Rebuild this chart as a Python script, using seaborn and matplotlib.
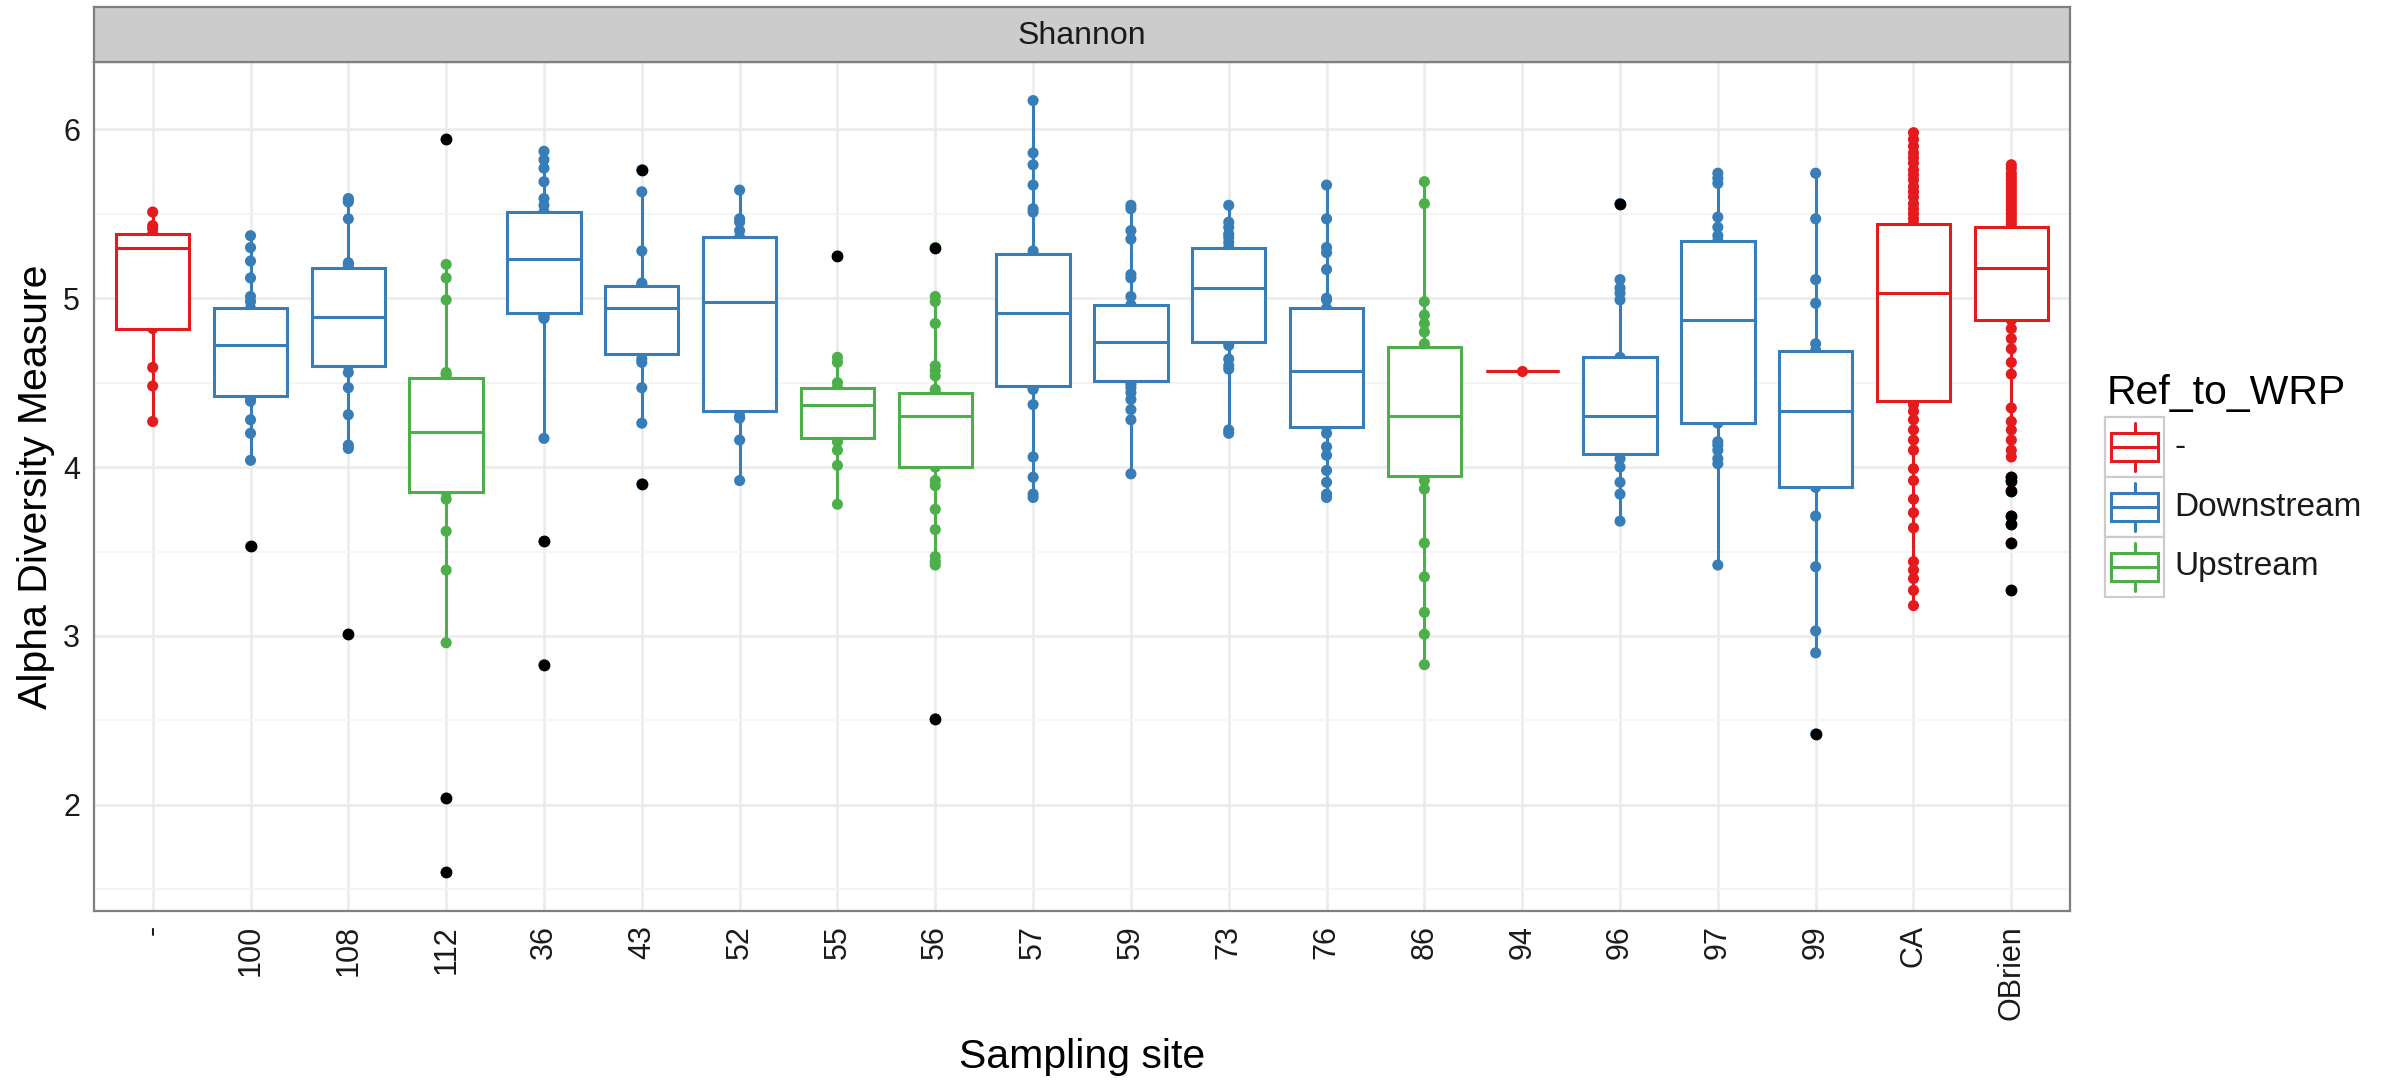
import numpy as np
import pandas as pd
import matplotlib
matplotlib.use('Agg')
import matplotlib.pyplot as plt
import seaborn as sns
from matplotlib.patches import Rectangle
from matplotlib.ticker import MultipleLocator

sns.set_theme(style='white')
plt.rcParams['font.family'] = ['Liberation Sans', 'DejaVu Sans']

# Sampling sites (x axis) and their Ref_to_WRP group
sites = ['-', '100', '108', '112', '36', '43', '52', '55', '56', '57',
         '59', '73', '76', '86', '94', '96', '97', '99', 'CA', 'OBrien']
groups = ['-', 'Downstream', 'Downstream', 'Upstream', 'Downstream', 'Downstream',
          'Downstream', 'Upstream', 'Upstream', 'Downstream', 'Downstream',
          'Downstream', 'Downstream', 'Upstream', '-', 'Downstream', 'Downstream',
          'Downstream', '-', '-']

# Shannon values per site
v_dash = [4.27, 4.48, 4.59, 4.82, 4.95, 5.15, 5.30, 5.33, 5.36, 5.38, 5.41, 5.43, 5.51]
v_100 = [3.53, 4.04, 4.20, 4.28, 4.39, 4.41, 4.42, 4.48, 4.55, 4.60, 4.65, 4.69, 4.72,
         4.76, 4.80, 4.84, 4.88, 4.91, 4.94, 4.98, 5.01, 5.12, 5.22, 5.30, 5.37]
v_108 = [3.01, 4.11, 4.13, 4.31, 4.47, 4.56, 4.60, 4.65, 4.70, 4.75, 4.80, 4.85, 4.89,
         4.93, 4.98, 5.03, 5.08, 5.13, 5.18, 5.20, 5.21, 5.47, 5.57, 5.58, 5.59]
v_112 = [1.60, 2.04, 2.96, 3.39, 3.62, 3.81, 3.85, 3.92, 4.00, 4.06, 4.12, 4.17, 4.21,
         4.26, 4.32, 4.38, 4.44, 4.49, 4.53, 4.55, 4.56, 4.99, 5.12, 5.20, 5.94]
v_36 = [2.83, 3.56, 4.17, 4.88, 4.89, 4.90, 4.91, 4.97, 5.03, 5.09, 5.14, 5.19, 5.23,
        5.27, 5.31, 5.36, 5.41, 5.46, 5.51, 5.55, 5.59, 5.69, 5.77, 5.82, 5.87]
v_43 = [3.90, 4.26, 4.47, 4.62, 4.64, 4.67, 4.72, 4.78, 4.84, 4.89, 4.94, 4.97, 5.00,
        5.02, 5.05, 5.07, 5.08, 5.09, 5.28, 5.63, 5.76]
v_52 = [3.92, 4.16, 4.29, 4.30, 4.33, 4.50, 4.70, 4.85, 4.98, 5.08, 5.18, 5.28, 5.36,
        5.40, 5.45, 5.47, 5.64]
v_55 = [3.78, 4.01, 4.10, 4.15, 4.17, 4.22, 4.27, 4.32, 4.37, 4.40, 4.42, 4.45, 4.47,
        4.50, 4.62, 4.65, 5.25]
v_56 = [2.51, 3.42, 3.44, 3.47, 3.63, 3.75, 3.89, 3.92, 4.00, 4.05, 4.09, 4.13, 4.17,
        4.21, 4.24, 4.27, 4.30, 4.32, 4.34, 4.36, 4.38, 4.40, 4.41, 4.43, 4.44, 4.46,
        4.54, 4.57, 4.60, 4.85, 4.98, 5.01, 5.30]
v_57 = [3.82, 3.84, 3.94, 4.06, 4.37, 4.46, 4.47, 4.48, 4.55, 4.62, 4.68, 4.74, 4.80,
        4.86, 4.91, 4.96, 5.01, 5.06, 5.11, 5.16, 5.21, 5.26, 5.28, 5.51, 5.53, 5.67,
        5.79, 5.86, 6.17]
v_59 = [3.96, 4.28, 4.34, 4.40, 4.44, 4.47, 4.49, 4.51, 4.54, 4.57, 4.60, 4.64, 4.67,
        4.71, 4.74, 4.77, 4.80, 4.83, 4.87, 4.90, 4.93, 4.96, 5.01, 5.12, 5.14, 5.35,
        5.40, 5.53, 5.55]
v_73 = [4.20, 4.22, 4.58, 4.60, 4.64, 4.72, 4.74, 4.80, 4.86, 4.92, 4.98, 5.02, 5.06,
        5.10, 5.14, 5.18, 5.22, 5.26, 5.30, 5.33, 5.36, 5.38, 5.42, 5.45, 5.55]
v_76 = [3.82, 3.84, 3.91, 3.98, 4.07, 4.12, 4.20, 4.24, 4.29, 4.34, 4.40, 4.45, 4.50,
        4.54, 4.57, 4.62, 4.67, 4.72, 4.78, 4.84, 4.89, 4.94, 4.99, 5.00, 5.17, 5.27,
        5.30, 5.47, 5.67]
v_86 = [2.83, 3.01, 3.14, 3.35, 3.55, 3.87, 3.92, 3.95, 4.01, 4.07, 4.13, 4.19, 4.24,
        4.27, 4.30, 4.36, 4.42, 4.48, 4.55, 4.61, 4.67, 4.71, 4.73, 4.80, 4.85, 4.90,
        4.98, 5.56, 5.69]
v_94 = [4.57]
v_96 = [3.68, 3.84, 3.91, 4.00, 4.05, 4.08, 4.13, 4.18, 4.22, 4.26, 4.30, 4.37, 4.44,
        4.51, 4.58, 4.65, 4.99, 5.03, 5.06, 5.11, 5.56]
v_97 = [3.42, 4.02, 4.05, 4.10, 4.13, 4.15, 4.26, 4.37, 4.48, 4.59, 4.70, 4.80, 4.87,
        4.95, 5.03, 5.11, 5.19, 5.27, 5.34, 5.37, 5.42, 5.48, 5.68, 5.71, 5.74]
v_99 = [2.42, 2.90, 3.03, 3.41, 3.71, 3.88, 3.98, 4.08, 4.17, 4.25, 4.33, 4.40, 4.48,
        4.55, 4.62, 4.69, 4.73, 4.97, 5.11, 5.47, 5.74]
v_CA = [3.18, 3.27, 3.34, 3.39, 3.44, 3.64, 3.73, 3.81, 3.92, 3.99, 4.10, 4.16, 4.22,
        4.28, 4.33, 4.37, 4.39, 4.43, 4.47, 4.52, 4.56, 4.60, 4.65, 4.69, 4.73, 4.77,
        4.81, 4.85, 4.89, 4.93, 4.97, 5.00, 5.03, 5.06, 5.09, 5.12, 5.15, 5.18, 5.21,
        5.24, 5.27, 5.30, 5.32, 5.34, 5.36, 5.38, 5.40, 5.42, 5.44, 5.47, 5.50, 5.53,
        5.56, 5.60, 5.63, 5.66, 5.70, 5.73, 5.76, 5.80, 5.83, 5.86, 5.90, 5.94, 5.98]
v_OBrien = [3.27, 3.55, 3.66, 3.71, 3.86, 3.92, 3.94, 4.06, 4.10, 4.16, 4.22, 4.27,
            4.35, 4.55, 4.62, 4.70, 4.76, 4.82, 4.87, 4.89, 4.92, 4.95, 4.98, 5.00,
            5.02, 5.04, 5.06, 5.08, 5.09, 5.10, 5.11, 5.12, 5.13, 5.14, 5.15, 5.16,
            5.18, 5.20, 5.22, 5.24, 5.26, 5.27, 5.28, 5.29, 5.30, 5.31, 5.32, 5.33,
            5.34, 5.35, 5.36, 5.38, 5.39, 5.40, 5.42, 5.44, 5.46, 5.48, 5.50, 5.52,
            5.54, 5.56, 5.58, 5.60, 5.62, 5.64, 5.66, 5.68, 5.70, 5.72, 5.74, 5.77, 5.79]

values = [v_dash, v_100, v_108, v_112, v_36, v_43, v_52, v_55, v_56, v_57,
          v_59, v_73, v_76, v_86, v_94, v_96, v_97, v_99, v_CA, v_OBrien]

legend_order = ['-', 'Downstream', 'Upstream']
palette = {'-': '#E41A1C', 'Downstream': '#377EB8', 'Upstream': '#4DAF4A'}

rows = []
for s, g, vals in zip(sites, groups, values):
    for v in vals:
        rows.append((s, g, v))
df = pd.DataFrame(rows, columns=['site', 'Ref_to_WRP', 'value'])

# Figure layout in pixels
W, H = 2381, 1082
fig = plt.figure(figsize=(W / 100, H / 100), dpi=100)
fig.patch.set_facecolor('white')
pl, pr, pt, pb = 94, 2070, 62, 911
ax = fig.add_axes([pl / W, 1 - pb / H, (pr - pl) / W, (pb - pt) / H])

txt = '#1A1A1A'

# Points first (under the white boxes), then the boxes per group
sns.stripplot(data=df, x='site', y='value', hue='Ref_to_WRP', order=sites,
              palette=palette, jitter=False, size=8, linewidth=0, legend=False,
              zorder=3, ax=ax)
for g in legend_order:
    sub = df[df['Ref_to_WRP'] == g]
    sns.boxplot(data=sub, x='site', y='value', order=sites, color='white',
                saturation=1, linecolor=palette[g], linewidth=2.2, width=0.75,
                showcaps=False,
                flierprops=dict(marker='o', markerfacecolor='black',
                                markeredgecolor='black', markersize=7.5),
                zorder=4, ax=ax)

# Axes styling (ggplot theme_bw look)
lo, hi = df['value'].min(), df['value'].max()
pad = 0.05 * (hi - lo)
ax.set_ylim(lo - pad, hi + pad)
ax.set_xlim(-0.6, len(sites) - 0.4)
ax.set_yticks([2, 3, 4, 5, 6])
ax.yaxis.set_minor_locator(MultipleLocator(0.5))
ax.set_axisbelow(True)
ax.grid(which='major', axis='both', color='#EBEBEB', linewidth=1.8)
ax.grid(which='minor', axis='y', color='#F4F4F4', linewidth=1.2)
ax.tick_params(which='minor', length=0)
ax.tick_params(which='major', direction='out', length=5.5, width=1.5,
               color='#333333', pad=4.5, labelsize=22, labelcolor=txt)
ax.tick_params(axis='x', labelrotation=90)
ax.set_xlabel('')
ax.set_ylabel('')
for sp in ax.spines.values():
    sp.set_color('#7F7F7F')
    sp.set_linewidth(1.6)
    sp.set_visible(True)

# Facet strip
sax = fig.add_axes([pl / W, 1 - pt / H, (pr - pl) / W, (pt - 7) / H])
sax.set_facecolor('#CCCCCC')
sax.set_xticks([])
sax.set_yticks([])
for sp in sax.spines.values():
    sp.set_color('#7F7F7F')
    sp.set_linewidth(1.6)
sax.text(0.5, 0.48, 'Shannon', ha='center', va='center', fontsize=23,
         color=txt, transform=sax.transAxes)

# Axis titles
fig.text(36 / W, 1 - 487 / H, 'Alpha Diversity Measure', rotation=90,
         ha='center', va='center', fontsize=29.5, color='black')
fig.text((pl + pr) / 2 / W, 1 - 1068 / H, 'Sampling site', ha='center',
         va='baseline', fontsize=29.5, color='black')

# Legend
fig.text(2107 / W, 1 - 404 / H, 'Ref_to_WRP', ha='left', va='baseline',
         fontsize=29.5, color='black')
lax = fig.add_axes([2105 / W, 1 - 597 / H, 59 / W, 180 / H])
lax.set_xlim(0, 1)
lax.set_ylim(0, 3)
lax.axis('off')
for i, g in enumerate(legend_order):
    y0 = 2 - i
    col = palette[g]
    lax.add_patch(Rectangle((0, y0), 1, 1, facecolor='white', edgecolor='#CCCCCC',
                            linewidth=1.6, clip_on=False))
    lax.add_patch(Rectangle((0.1, y0 + 0.26), 0.8, 0.48, facecolor='white',
                            edgecolor=col, linewidth=2.2, clip_on=False))
    lax.plot([0.1, 0.9], [y0 + 0.5, y0 + 0.5], color=col, lw=2.2)
    lax.plot([0.5, 0.5], [y0 + 0.1, y0 + 0.26], color=col, lw=2.2)
    lax.plot([0.5, 0.5], [y0 + 0.74, y0 + 0.9], color=col, lw=2.2)
    fig.text(2174 / W, 1 - (447 + 60 * i) / H, g, ha='left', va='center',
             fontsize=24, color=txt)

fig.savefig('out.png', dpi=100, facecolor='white')
